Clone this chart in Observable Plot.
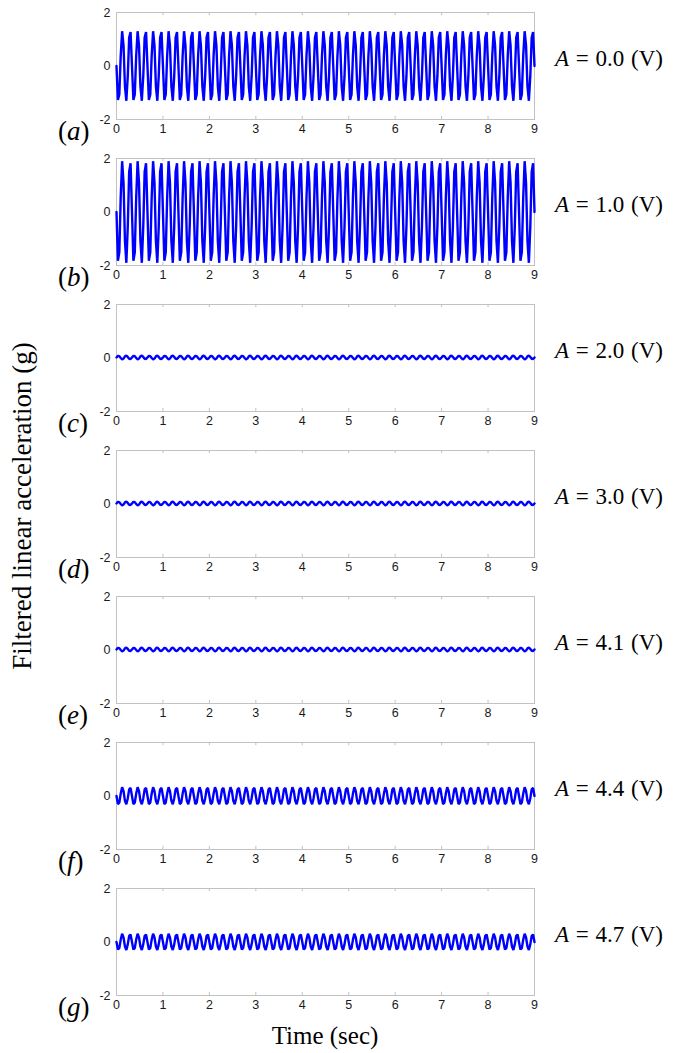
<!DOCTYPE html>
<html>
<head>
<meta charset="utf-8">
<script src="https://cdn.jsdelivr.net/npm/d3@7"></script>
<script src="https://cdn.jsdelivr.net/npm/@observablehq/plot@0.6"></script>
<style>
  body { margin: 0; background: #fff; }
  #wrap { position: relative; width: 683px; height: 1053px; overflow: hidden; background: #fff;
          font-family: "Liberation Serif", "Times New Roman", serif; color: #000; }
  .panel { position: absolute; left: 0; }
  .rlab { position: absolute; left: 555px; font-size: 23px; word-spacing: 1px; white-space: nowrap; transform: translateY(-50%); }
  .llab { position: absolute; left: 58px; font-size: 27px; white-space: nowrap; transform: translateY(-50%); }
  .ylab { position: absolute; left: 22px; top: 506px; transform: translate(-50%, -50%) rotate(-90deg);
          font-size: 27px; white-space: nowrap; }
  .xlab { position: absolute; left: 325px; top: 1036px; transform: translate(-50%, -50%);
          font-size: 25px; white-space: nowrap; }
</style>
</head>
<body>
<div id="wrap"></div>
<script>
// ---- data ----
const panelLetters = ["a", "b", "c", "d", "e", "f", "g"];
const voltages = ["0.0", "1.0", "2.0", "3.0", "4.1", "4.4", "4.7"];
const xTicks = [0, 1, 2, 3, 4, 5, 6, 7, 8, 9];
const yTicks = [-2, 0, 2];
const sampleRate = 33;   // samples per second
const repeats = 27;      // pattern repeats over 0..9 s (each pattern = 1/3 s, 2 cycles)

const patA = [0, -1.27, -1.06, 0.39, 1.3, 0.76, -0.76, -1.3, -0.39, 1.06, 1.27];
const patB = [0, -1.82, -1.51, 0.56, 1.9, 1.08, -1.08, -1.9, -0.56, 1.51, 1.82];
const patC = [0.02, 0.08, 0.07, 0, -0.05, -0.02, 0.06, 0.09, 0.04, -0.03, -0.04];
const patD = [0.02, 0.08, 0.07, 0, -0.05, -0.02, 0.06, 0.09, 0.04, -0.03, -0.04];
const patE = [0.02, 0.08, 0.07, 0, -0.05, -0.02, 0.06, 0.09, 0.04, -0.03, -0.04];
const patF = [0, -0.3, -0.25, 0.09, 0.33, 0.18, -0.18, -0.31, -0.09, 0.25, 0.3];
const patG = [0, -0.28, -0.23, 0.09, 0.31, 0.17, -0.17, -0.3, -0.09, 0.23, 0.28];
const patterns = [patA, patB, patC, patD, patE, patF, patG];

// ---- layout ----
const wrap = document.getElementById("wrap");
const TOP0 = 11.5, STEP = 146, H = 107, MT = 8, MB = 24;

patterns.forEach((pat, i) => {
  const series = [];
  for (let r = 0; r < repeats; r++) {
    pat.forEach((v, k) => series.push({t: (r * pat.length + k) / sampleRate, v}));
  }
  series.push({t: repeats * pat.length / sampleRate, v: pat[0]});

  const chart = Plot.plot({
    width: 683,
    height: H + MT + MB,
    marginTop: MT,
    marginBottom: MB,
    marginLeft: 116,
    marginRight: 149,
    x: {domain: [0, 9]},
    y: {domain: [-2, 2]},
    style: {fontFamily: '"Liberation Sans", Arial, sans-serif', fontSize: "12.5px", color: "#1a1a1a", background: "transparent", overflow: "visible"},
    marks: [
      Plot.frame({stroke: "#c2c2c2"}),
      Plot.ruleX(xTicks.slice(1, -1), {y1: -2, y2: -1.88, stroke: "#c2c2c2"}),
      Plot.ruleX(xTicks.slice(1, -1), {y1: 2, y2: 1.88, stroke: "#c2c2c2"}),
      Plot.line(series, {x: "t", y: "v", stroke: "#0000ff", strokeWidth: 2.4, strokeLinejoin: "miter"}),
      Plot.axisX({ticks: xTicks, tickSize: 0, tickPadding: 5, label: null, tickFormat: d => String(d)}),
      Plot.axisY({ticks: yTicks, tickSize: 0, tickPadding: 6, label: null, tickFormat: d => String(d)})
    ]
  });
  const top = TOP0 + i * STEP;
  const div = document.createElement("div");
  div.className = "panel";
  div.style.top = (top - MT) + "px";
  div.appendChild(chart);
  wrap.appendChild(div);

  const r = document.createElement("div");
  r.className = "rlab";
  r.style.top = (top + H / 2 - 6) + "px";
  r.innerHTML = "<i>A</i> = " + voltages[i] + " (V)";
  wrap.appendChild(r);

  const l = document.createElement("div");
  l.className = "llab";
  l.style.top = (top + H + 12) + "px";
  l.innerHTML = "(<i>" + panelLetters[i] + "</i>)";
  wrap.appendChild(l);
});

const yl = document.createElement("div");
yl.className = "ylab";
yl.textContent = "Filtered linear acceleration (g)";
wrap.appendChild(yl);

const xl = document.createElement("div");
xl.className = "xlab";
xl.textContent = "Time (sec)";
wrap.appendChild(xl);
</script>
</body>
</html>
